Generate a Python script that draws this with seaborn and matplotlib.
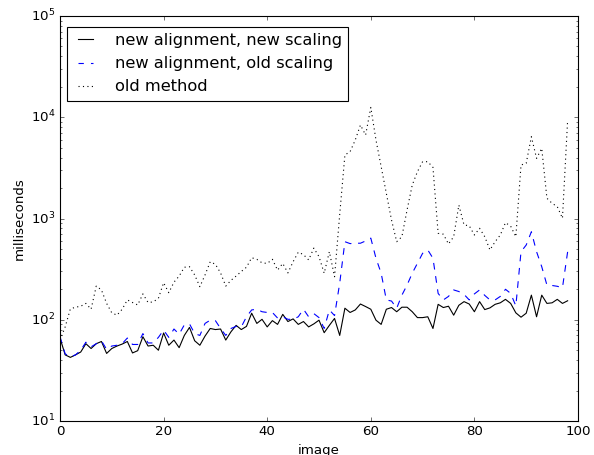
import numpy as np
import pandas as pd
import matplotlib
matplotlib.use("Agg")
import matplotlib.pyplot as plt
import seaborn as sns

images = list(range(99))

new_align_new_scale = [
    66, 45, 42.5, 45, 48, 58, 52, 58, 61, 46.5,
    52, 55, 57.5, 61, 47, 49.5, 68, 55, 56, 50,
    74, 56, 63, 53, 70, 84, 62, 56, 69, 82,
    80, 81, 63, 76, 88, 80, 86, 116, 92, 101,
    85, 98, 90, 113, 96, 102, 90, 96, 85, 91,
    99, 74.5, 88, 103, 70, 130, 118, 125, 143, 135,
    127, 99, 90, 127, 132, 120, 133, 133, 120, 105,
    105, 107, 82, 142, 132, 136, 111, 139, 151, 143,
    120, 151, 126, 131, 142, 147, 159, 145, 117, 106,
    116, 175, 107, 175, 145, 147, 159, 145, 154,
]

new_align_old_scale = [
    68, 46, 43, 45, 50, 60, 54, 58, 62, 51,
    55, 56, 58, 66, 57, 57, 73, 59, 59, 67,
    79, 67, 81, 72, 89, 91, 73, 70, 92, 99,
    98, 82, 70, 82, 86, 85, 107, 125, 127, 120,
    118, 118, 104, 107, 101, 101, 107, 127, 107, 115,
    105, 82, 125, 110, 230, 590, 565, 570, 570, 600,
    640, 405, 288, 157, 153, 130, 175, 220, 288, 361,
    453, 489, 405, 182, 157, 170, 197, 190, 178, 157,
    180, 197, 174, 157, 157, 170, 200, 182, 137, 470,
    547, 740, 470, 334, 220, 218, 214, 207, 470,
]

old_method = [
    63, 85, 128, 133, 136, 145, 127, 215, 197, 145,
    117, 111, 127, 157, 148, 140, 180, 148, 150, 163,
    232, 185, 235, 270, 330, 334, 277, 212, 277, 374,
    353, 290, 215, 245, 270, 300, 330, 410, 395, 365,
    360, 395, 309, 360, 290, 374, 465, 440, 390, 510,
    420, 288, 470, 266, 1100, 4240, 4570, 5960, 8380, 6680,
    12500, 5960, 3250, 1770, 966, 590, 661, 1213, 2140, 2900,
    3640, 3640, 3200, 713, 700, 560, 661, 1358, 863, 848,
    687, 800, 661, 489, 590, 687, 910, 840, 661, 3375,
    3510, 6420, 3930, 4930, 1585, 1412, 1310, 1005, 9400,
]

labels = ["new alignment, new scaling", "new alignment, old scaling", "old method"]

plt.style.use("classic")
plt.rcParams["mathtext.fontset"] = "dejavusans"
plt.rcParams["font.family"] = ["DejaVu Sans"]

fig = plt.figure(figsize=(594 / 80, 455 / 80), dpi=80, facecolor="white")
ax = fig.add_axes([60 / 594, 1 - 421 / 455, 518 / 594, 405 / 455])

df = pd.DataFrame({"image": images, "a": new_align_new_scale,
                   "b": new_align_old_scale, "c": old_method})

sns.lineplot(data=df, x="image", y="a", ax=ax, color="black", linestyle="-",
             linewidth=1.0, label=labels[0])
sns.lineplot(data=df, x="image", y="b", ax=ax, color="blue", linestyle="--",
             linewidth=1.0, label=labels[1])
sns.lineplot(data=df, x="image", y="c", ax=ax, color="black", linestyle=":",
             linewidth=1.0, label=labels[2])

ax.set_yscale("log")
ax.set_xlim(0, 100)
ax.set_ylim(10, 1e5)
ax.set_xticks([0, 20, 40, 60, 80, 100])
ax.set_xlabel("image")
ax.set_ylabel("milliseconds")
leg = ax.legend(loc="upper left", bbox_to_anchor=(7 / 518, 1 - 11 / 405),
                borderaxespad=0, fontsize=14.6, handlelength=1.55,
                handletextpad=1.0, borderpad=0.38, labelspacing=0.5)
leg.get_lines()[1].set_linestyle((0, (4.8, 6.4)))

fig.savefig("out.png", dpi=80, facecolor="white")
